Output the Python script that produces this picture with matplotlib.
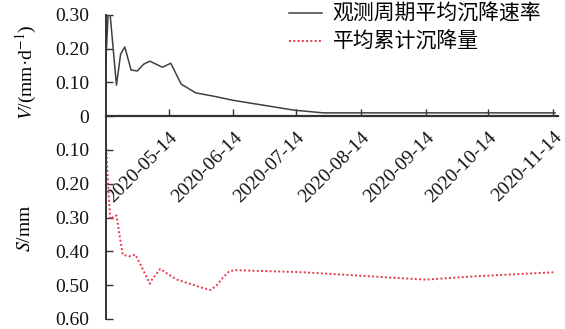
import matplotlib
matplotlib.use('Agg')
import matplotlib.pyplot as plt
import matplotlib.ticker as mticker
import pandas as pd

plt.rcParams['font.family'] = ['Liberation Serif', 'Noto Sans CJK SC']
plt.rcParams['mathtext.fontset'] = 'stix'

# velocity (mm/d), plotted above zero
v_dates = ['2020-04-14', '2020-04-15', '2020-04-16', '2020-04-19', '2020-04-21',
           '2020-04-23', '2020-04-26', '2020-04-29', '2020-05-02', '2020-05-05',
           '2020-05-11', '2020-05-15', '2020-05-20', '2020-05-27', '2020-06-04',
           '2020-06-14', '2020-07-13', '2020-07-27', '2020-11-15']
v_vals = [0.17, 0.30, 0.30, 0.092, 0.184,
          0.205, 0.137, 0.134, 0.154, 0.163,
          0.145, 0.157, 0.095, 0.069, 0.060,
          0.047, 0.018, 0.010, 0.010]

# cumulative settlement (mm), plotted below zero
s_dates = ['2020-04-14', '2020-04-15', '2020-04-16', '2020-04-18', '2020-04-19',
           '2020-04-22', '2020-04-25', '2020-04-28', '2020-04-30', '2020-05-05',
           '2020-05-06', '2020-05-10', '2020-05-14', '2020-05-18', '2020-05-22',
           '2020-05-30', '2020-06-03', '2020-06-06', '2020-06-09', '2020-06-12',
           '2020-06-15', '2020-07-17', '2020-08-18', '2020-09-14', '2020-10-08',
           '2020-11-15']
s_vals = [0.083, 0.20, 0.305, 0.296, 0.294,
          0.41, 0.415, 0.41, 0.433, 0.496,
          0.484, 0.452, 0.469, 0.484, 0.492,
          0.508, 0.515, 0.501, 0.478, 0.459,
          0.456, 0.462, 0.474, 0.484, 0.474,
          0.462]

tick_dates = ['2020-05-14', '2020-06-14', '2020-07-14', '2020-08-14',
              '2020-09-14', '2020-10-14', '2020-11-14']

v_x = pd.to_datetime(v_dates)
s_x = pd.to_datetime(s_dates)
t_x = pd.to_datetime(tick_dates)

fig = plt.figure(figsize=(5.65, 3.29), dpi=100)
ax = fig.add_axes([106/565, 0.031, (558-106)/565, 0.9236])

ax.plot(v_x, v_vals, color='#404040', lw=1.1, label='观测周期平均沉降速率')
ax.plot(s_x, [-s for s in s_vals], color='#e8394a', lw=1.4,
        linestyle=(0, (1, 1.2)), label='平均累计沉降量')

ax.set_xlim(pd.Timestamp('2020-04-14'), pd.Timestamp('2020-11-16 10:00'))
ax.set_ylim(-0.60, 0.30)

for s in ['top', 'right']:
    ax.spines[s].set_visible(False)
ax.spines['bottom'].set_position(('data', 0))
ax.spines['bottom'].set_linewidth(1.6)
ax.spines['left'].set_linewidth(1.4)
ax.spines['bottom'].set_color('#333333')
ax.spines['left'].set_color('#333333')
ax.tick_params(direction='in', length=5, width=1, colors='#333333',
               labelsize=14, labelcolor='#111111')
ax.tick_params(axis='y', pad=12)
ax.tick_params(axis='x', pad=9)

ax.set_yticks([-0.6, -0.5, -0.4, -0.3, -0.2, -0.1, 0, 0.1, 0.2, 0.3])
ax.yaxis.set_major_formatter(mticker.FuncFormatter(
    lambda v, p: '0' if abs(v) < 1e-9 else '%.2f' % abs(v)))

ax.set_xticks(t_x)
ax.set_xticklabels(tick_dates, rotation=45, ha='right', va='top',
                   rotation_mode='anchor')

fig.text(26/565, 1-72/329, r'$V$/(mm·d$^{-1}$)', rotation=90,
         ha='center', va='center', fontsize=14)
fig.text(26/565, 1-228/329, r'$S$/mm', rotation=90,
         ha='center', va='center', fontsize=14)

ax.legend(loc='upper left', bbox_to_anchor=(289/565, 1-3/329),
          bbox_transform=fig.transFigure, frameon=False,
          prop={'family': ['Noto Sans CJK SC'], 'size': 15},
          handlelength=1.6, handletextpad=0.5, labelspacing=0.28,
          borderpad=0.0, borderaxespad=0.0)

fig.savefig('out.png', dpi=100)
